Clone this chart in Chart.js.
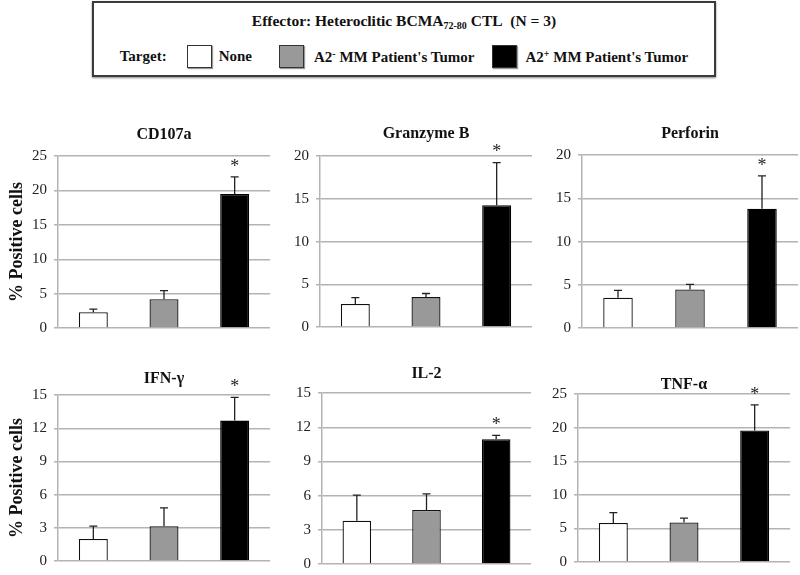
<!DOCTYPE html>
<html>
<head>
<meta charset="utf-8">
<script src="https://cdn.jsdelivr.net/npm/chart.js@4.4.0/dist/chart.umd.min.js"></script>
<style>
  body { margin: 0; background: #fff; width: 800px; height: 575px; position: relative; overflow: hidden;
         font-family: "Liberation Serif", Tinos, "Times New Roman", Times, "DejaVu Serif", serif; }
  #legend { position: absolute; left: 92px; top: 1px; width: 620px; height: 72px;
            border: 2px solid #3a3a3a; box-shadow: 0 1px 2px #888; color: #111; font-weight: bold; }
  #legend .head { text-align: center; font-size: 15.5px; margin-top: 9px; }
  #legend sub { font-size: 10px; vertical-align: -3px; }
  #legend sup { font-size: 10px; vertical-align: 5px; }
  #legend .row { display: flex; align-items: center; justify-content: center;
                 margin-top: 14px; font-size: 15px; }
  #legend .sw { width: 23px; height: 21px; border: 1px solid #333; box-shadow: 1px 1px 1px #999; }
  canvas { position: absolute; }
</style>
</head>
<body>
<div id="legend">
  <div class="head">Effector: Heteroclitic BCMA<sub>72-80</sub> CTL&nbsp; (N = 3)</div>
  <div class="row" id="legendRow"><span style="margin-right:20px">Target:</span></div>
</div>
<script>
// categories (targets)
const groups = ["None", "A2<sup>-</sup> MM Patient's Tumor", "A2<sup>+</sup> MM Patient's Tumor"];
const groupNames = ["None", "A2- MM Patient's Tumor", "A2+ MM Patient's Tumor"];
const fills = ["#ffffff", "#999999", "#000000"];

// panel titles
const markers = ["CD107a", "Granzyme B", "Perforin", "IFN-\u03b3", "IL-2", "TNF-\u03b1"];

// mean % positive cells per target
const cd107a    = [2.3, 4.2, 19.5];
const granzymeB = [2.7, 3.5, 14.25];
const perforin  = [3.5, 4.45, 13.8];
const ifng      = [2.0, 3.15, 12.7];
const il2       = [3.8, 4.75, 10.95];
const tnfa      = [5.8, 5.9, 19.6];

// upper error
const cd107aErr    = [0.45, 1.25, 2.5];
const granzymeBErr = [0.75, 0.42, 5.0];
const perforinErr  = [0.85, 0.6, 3.8];
const ifngErr      = [1.15, 1.65, 2.1];
const il2Err       = [2.25, 1.4, 0.35];
const tnfaErr      = [1.55, 0.65, 3.8];

// significance marks (*)
const significant = [false, false, true];

// y-axis ranges
const yMax  = [25, 20, 20, 15, 15, 25];
const yStep = [5, 5, 5, 3, 3, 5];

const values = [cd107a, granzymeB, perforin, ifng, il2, tnfa];
const errors = [cd107aErr, granzymeBErr, perforinErr, ifngErr, il2Err, tnfaErr];

// plot boxes on the page
const boxes = [
  { left: 58,  right: 270, top: 156, bottom: 334, titleY: 134, axisW: 58 },
  { left: 320, right: 532, top: 156, bottom: 333, titleY: 133, axisW: 50 },
  { left: 582, right: 798, top: 155, bottom: 334, titleY: 133, axisW: 50 },
  { left: 58,  right: 270, top: 395, bottom: 567, titleY: 378, axisW: 58 },
  { left: 322, right: 531, top: 393, bottom: 570, titleY: 373, axisW: 50 },
  { left: 578, right: 790, top: 394, bottom: 568, titleY: 384, axisW: 50 }
];

// legend
const row = document.getElementById("legendRow");
const swGap = ["7px", "10px", "8px"];
const labGap = ["27px", "18px", "0"];
groups.forEach((g, i) => {
  const sw = document.createElement("span");
  sw.className = "sw";
  sw.style.background = fills[i];
  sw.style.marginRight = swGap[i];
  const lab = document.createElement("span");
  lab.innerHTML = g;
  lab.style.marginRight = labGap[i];
  row.appendChild(sw);
  row.appendChild(lab);
});

const serif = "\"Liberation Serif\", Tinos, \"Times New Roman\", Times, \"DejaVu Serif\", serif";
const gridColor = "#b3b3b3";

const errorBars = {
  id: "errorBars",
  afterDatasetsDraw(chart, args, opts) {
    const ctx = chart.ctx;
    const y = chart.scales.y;
    const meta = chart.getDatasetMeta(0);
    const data = chart.data.datasets[0].data;
    ctx.save();
    ctx.strokeStyle = "#222";
    ctx.lineWidth = 1.3;
    ctx.fillStyle = "#222";
    ctx.font = "18px " + serif;
    ctx.textAlign = "center";
    ctx.textBaseline = "middle";
    meta.data.forEach((bar, i) => {
      const top = y.getPixelForValue(data[i] + opts.errors[i]);
      ctx.beginPath();
      ctx.moveTo(bar.x, bar.y);
      ctx.lineTo(bar.x, top);
      ctx.moveTo(bar.x - 4, top);
      ctx.lineTo(bar.x + 4, top);
      ctx.stroke();
      if (opts.stars[i]) ctx.fillText("*", bar.x, top - 10);
    });
    ctx.restore();
  }
};

markers.forEach((name, p) => {
  const b = boxes[p];
  const cv = document.createElement("canvas");
  const cLeft = b.left - b.axisW;
  const cTop = b.titleY - 9;
  const w = b.right + 2 - cLeft;
  const h = b.bottom + 10 - cTop;
  cv.width = w; cv.height = h;
  cv.style.left = cLeft + "px";
  cv.style.top = cTop + "px";
  cv.style.width = w + "px";
  cv.style.height = h + "px";
  document.body.appendChild(cv);

  new Chart(cv.getContext("2d"), {
    type: "bar",
    data: {
      labels: groupNames,
      datasets: [{
        data: values[p],
        backgroundColor: fills,
        borderColor: ["#111", "#111", "#000"],
        borderWidth: 1.3,
        categoryPercentage: 1,
        barPercentage: 0.41
      }]
    },
    plugins: [errorBars],
    options: {
      responsive: false,
      animation: false,
      layout: { padding: { left: 0, right: 2, top: 0, bottom: 10 } },
      plugins: {
        legend: { display: false },
        tooltip: { enabled: false },
        title: {
          display: true,
          text: name,
          fullSize: false,
          color: "#111",
          font: { family: serif, size: 16, weight: "bold", lineHeight: 1.2 },
          padding: { top: 0, bottom: b.top - cTop - 19 }
        },
        errorBars: { errors: errors[p], stars: significant }
      },
      scales: {
        x: { display: false, grid: { display: false } },
        y: {
          min: 0,
          max: yMax[p],
          afterFit: (s) => { s.width = b.axisW; },
          ticks: { stepSize: yStep[p], padding: 7, color: "#222", font: { family: serif, size: 15 } },
          grid: { color: gridColor, lineWidth: 1.5, tickLength: 4, tickColor: gridColor },
          border: { color: gridColor, width: 1.5 },
          title: {
            display: b.axisW === 58,
            text: "% Positive cells",
            color: "#111",
            font: { family: serif, size: 18, weight: "bold", lineHeight: 1.2 },
            padding: { top: 7, bottom: 0 }
          }
        }
      }
    }
  });
});
</script>
</body>
</html>
